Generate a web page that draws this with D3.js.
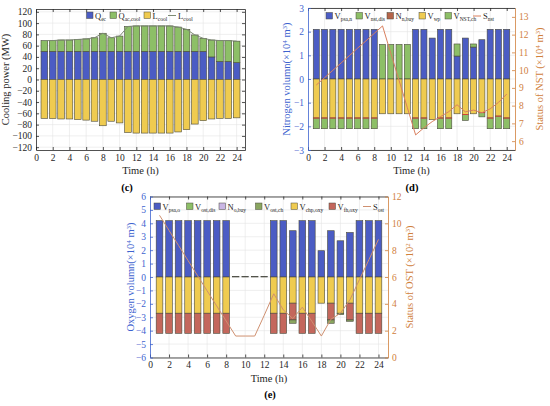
<!DOCTYPE html>
<html lang="en">
<head>
<meta charset="UTF-8">
<title>Cooling, nitrogen and oxygen balance</title>
<script src="https://d3js.org/d3.v7.min.js"></script>
<style>
  body { margin: 0; background: #fff; }
  svg { display: block; }
</style>
</head>
<body>
<svg id="chart" width="550" height="406"></svg>
<script>
const hours = d3.range(1, 25);
const timeTicks = d3.range(0, 25, 2);

// (c) cooling power, MW
const coolEc = [50,50,50,50,50,50,50,50,50,50,50,50,50,50,50,50,50,50,50,50,40,32,32,30];
const coolAc = [19,19,20,20,21,22,24,32,24,27,44,45,45,45,45,45,43,39,29,23,30,37,37,38];
const coolLoad = [69,69,70,70,71,72,74,82,74,77,94,95,95,95,95,95,93,89,79,73,70,69,69,68];
const coolTicks = d3.range(-120, 121, 20);

// (d) nitrogen, 10^4 m3
const nPsa = [2.1,2.1,2.1,2.1,2.1,2.1,2.1,2.1,0,0,0,0,2.1,2.1,1.73,2.1,2.1,0.97,1.73,1.35,1.66,2.1,2.1,2.1];
const nDis = [0,0,0,0,0,0,0,0,1.46,1.46,1.46,1.46,0,0,0,0,0,0.51,0,0.13,0,0,0,0];
const nBuy = [0,0,0,0,0,0,0,0,0,0,0,0,0,0,0,0,0,0,0,0,0,0,0,0];
const nWp = [-1.65,-1.65,-1.65,-1.65,-1.65,-1.65,-1.65,-1.65,-1.47,-1.47,-1.47,-1.47,-1.65,-1.65,-1.72,-1.65,-1.65,-1.47,-1.5,-1.47,-1.42,-1.65,-1.57,-1.65];
const nCh = [-0.45,-0.45,-0.45,-0.45,-0.45,-0.45,-0.45,-0.45,0,0,0,0,-0.45,-0.45,0,-0.45,-0.45,0,-0.25,0,-0.18,-0.45,-0.53,-0.45];
const nStore = [9.16,9.57,9.99,10.4,10.82,11.24,11.65,12.07,12.49,10.95,9.42,7.88,6.35,6.75,7.1,7.38,7.66,8.05,7.65,7.75,7.6,7.82,8.18,8.65];
const nTicks = d3.range(-3, 4, 1);
const nStoreTicks = d3.range(6, 14, 1);

// (e) oxygen
const oPsa = [4.2,4.2,4.2,4.2,4.2,4.2,4.2,4.2,0.04,0.04,0.04,0.04,4.2,4.2,3.45,4.2,4.2,1.96,3.45,2.7,3.32,4.2,4.2,4.2];
const oDis = [0,0,0,0,0,0,0,0,0,0,0,0,0,0,0,0,0,0,0,0,0,0,0,0];
const oBuy = [0,0,0,0,0,0,0,0,0,0,0,0,0,0,0,0,0,0,0,0,0,0,0,0];
const oChp = [-2.7,-2.7,-2.7,-2.7,-2.7,-2.7,-2.7,-2.7,0,0,0,0,-2.7,-2.7,-1.95,-2.7,-2.7,-1.95,-1.95,-2.7,-1.95,-2.7,-2.7,-2.7];
const oFh = [-1.5,-1.5,-1.5,-1.5,-1.5,-1.5,-1.5,-1.5,0,0,0,0,-1.5,-1.5,-1.25,-1.5,-1.5,0,-1.25,0,-1.25,-1.5,-1.5,-1.5];
const oCh = [0,0,0,0,0,0,0,0,0,0,0,0,0,0,-0.25,0,0,0,-0.25,-0.1,-0.1,0,0,0];
const oStore = [10.6,9.47,8.35,7.22,6.1,4.97,3.85,2.72,1.6,1.6,1.6,3.15,4.75,3.55,2.9,3.75,2.7,1.6,2.85,3.3,4.3,5.8,7.3,8.8];
const oTicks = d3.range(-6, 7, 1);
const oStoreTicks = d3.range(0, 13, 2);

const BLUE = "#4b5cc4", GREEN = "#8dbf67", YELLOW = "#efcb50",
      BROWN = "#b5654a", RED = "#c4675c", LAVENDER = "#c9b6e4";
const FONT = "'Liberation Serif', 'Times New Roman', serif";
const intFmt = d3.format("d");

const svg = d3.select("#chart").attr("font-family", FONT);

function stackRects(series, sign) {
  const out = [];
  hours.forEach((h, i) => {
    let base = 0;
    series.forEach(s => {
      const v = s.values[i];
      if (v * sign > 0) {
        out.push({ h, a: base, b: base + v, s });
        base += v;
      }
    });
  });
  return out;
}

function styleAxis(sel, color) {
  sel.attr("font-family", FONT).attr("font-size", 9.5);
  sel.select(".domain").attr("stroke", color).attr("stroke-width", 0.8);
  sel.selectAll(".tick line").attr("stroke", color).attr("stroke-width", 0.8);
  sel.selectAll(".tick text").attr("fill", color);
}

// label with subscript / superscript parts: [[text, "sub"|"sup"|null], ...]
function richText(t, parts, small) {
  let shift = 0;
  parts.forEach(([str, kind]) => {
    const target = kind === "sub" ? 2 : kind === "sup" ? -3.5 : 0;
    const ts = t.append("tspan").attr("dy", target - shift).text(str);
    if (kind) ts.attr("font-size", small);
    shift = target;
  });
}

function drawPanel(p) {
  const g = svg.append("g");
  const x = d3.scaleLinear().domain([0, 25]).range([p.left, p.right]);
  const y = d3.scaleLinear().domain(p.yDomain).range([p.bottom, p.top]);
  const y2 = p.y2Domain ? d3.scaleLinear().domain(p.y2Domain).range([p.bottom, p.top]) : null;

  // grid
  g.append("g").selectAll("line").data(timeTicks.slice(1))
    .join("line")
    .attr("x1", d => x(d)).attr("x2", d => x(d))
    .attr("y1", p.top).attr("y2", p.bottom)
    .attr("stroke", "#e4e4e4").attr("stroke-width", 0.6);
  g.append("g").selectAll("line").data(p.yTicks)
    .join("line")
    .attr("x1", p.left).attr("x2", p.right)
    .attr("y1", d => y(d)).attr("y2", d => y(d))
    .attr("stroke", "#e4e4e4").attr("stroke-width", 0.6);

  // bars
  const bw = (x(1) - x(0)) * p.barFrac;
  const rects = stackRects(p.pos, 1).concat(stackRects(p.neg, -1));
  g.append("g").selectAll("rect").data(rects)
    .join("rect")
    .attr("x", d => x(d.h) - bw / 2)
    .attr("y", d => y(Math.max(d.a, d.b)))
    .attr("width", bw)
    .attr("height", d => Math.abs(y(d.a) - y(d.b)))
    .attr("fill", d => d.s.color)
    .attr("stroke", "#4a4a3c")
    .attr("stroke-width", 0.6);

  // coloured edge where a series meets the one above it
  g.append("g").selectAll("line").data(rects.filter(d => d.s.edge))
    .join("line")
    .attr("x1", d => x(d.h) - bw / 2).attr("x2", d => x(d.h) + bw / 2)
    .attr("y1", d => y(d.a)).attr("y2", d => y(d.a))
    .attr("stroke", d => d.s.edge).attr("stroke-width", 1);

  // line series
  if (p.line) {
    const ys = p.line.axis === "y2" ? y2 : y;
    g.append("path")
      .datum(p.line.values)
      .attr("fill", "none")
      .attr("stroke", p.line.color)
      .attr("stroke-width", 1)
      .attr("d", d3.line().x((d, i) => x(hours[i])).y(d => ys(d)));
  }

  // axes, ticks pointing inward
  const ax = g.append("g").attr("transform", `translate(0,${p.bottom})`)
    .call(d3.axisBottom(x).tickValues(timeTicks).tickFormat(intFmt)
      .tickSizeInner(-3).tickSizeOuter(0).tickPadding(4));
  styleAxis(ax, "#262626");
  const axTop = g.append("g").attr("transform", `translate(0,${p.top})`)
    .call(d3.axisTop(x).tickValues(timeTicks).tickSizeInner(-3).tickSizeOuter(0).tickFormat(""));
  styleAxis(axTop, "#262626");

  const ay = g.append("g").attr("transform", `translate(${p.left},0)`)
    .call(d3.axisLeft(y).tickValues(p.yTicks).tickFormat(intFmt)
      .tickSizeInner(-3).tickSizeOuter(0).tickPadding(4));
  styleAxis(ay, p.yColor);

  const ay2 = g.append("g").attr("transform", `translate(${p.right},0)`);
  if (y2) {
    ay2.call(d3.axisRight(y2).tickValues(p.y2Ticks).tickFormat(intFmt)
      .tickSizeInner(-3).tickSizeOuter(0).tickPadding(4));
    styleAxis(ay2, p.y2Color);
  } else {
    ay2.call(d3.axisRight(y).tickValues(p.yTicks).tickSizeInner(-3).tickSizeOuter(0).tickFormat(""));
    styleAxis(ay2, "#262626");
  }

  // titles
  g.append("text")
    .attr("x", (p.left + p.right) / 2).attr("y", p.bottom + 24)
    .attr("text-anchor", "middle").attr("font-size", 10.5).attr("fill", "#262626")
    .text("Time (h)");
  g.append("text")
    .attr("x", p.tag[0]).attr("y", p.tag[1])
    .attr("text-anchor", "middle").attr("font-size", 10.5).attr("font-weight", "bold")
    .text(p.tagText);

  const yt = g.append("text")
    .attr("transform", `translate(${p.yTitleX},${(p.top + p.bottom) / 2}) rotate(-90)`)
    .attr("text-anchor", "middle").attr("dy", "0.35em")
    .attr("font-size", 10.5).attr("fill", p.yColor);
  richText(yt, p.yTitle, 7);
  if (p.y2Title) {
    const yt2 = g.append("text")
      .attr("transform", `translate(${p.y2TitleX},${(p.top + p.bottom) / 2}) rotate(-90)`)
      .attr("text-anchor", "middle").attr("dy", "0.35em")
      .attr("font-size", 10.5).attr("fill", p.y2Color);
    richText(yt2, p.y2Title, 7);
  }

  // legend
  const lg = g.append("g");
  p.legend.forEach((item, k) => {
    const lx = p.legendX[k], ly = p.legendY;
    if (item.kind === "line") {
      lg.append("line")
        .attr("x1", lx).attr("x2", lx + 8).attr("y1", ly).attr("y2", ly)
        .attr("stroke", item.color).attr("stroke-width", 1);
    } else {
      lg.append("rect")
        .attr("x", lx).attr("y", ly - 3.5).attr("width", 6.5).attr("height", 6.5)
        .attr("fill", item.color).attr("stroke", "#4a4a3c").attr("stroke-width", 0.5);
    }
    const t = lg.append("text")
      .attr("x", lx + (item.kind === "line" ? 10 : 8.5)).attr("y", ly + 3)
      .attr("font-size", 8.5).attr("fill", "#262626");
    richText(t, [[item.main, null], [item.sub, "sub"]], 5.5);
  });
}

// (c)
drawPanel({
  left: 36, right: 245, top: 9, bottom: 150,
  yDomain: [-125, 125], yTicks: coolTicks, yColor: "#262626",
  barFrac: 0.8,
  pos: [{ values: coolEc, color: BLUE }, { values: coolAc, color: GREEN }],
  neg: [{ values: coolLoad.map(v => -v), color: YELLOW }],
  line: { values: coolLoad, color: "#7c8a72", axis: "y" },
  yTitle: [["Cooling power (MW)", null]], yTitleX: 9,
  tag: [127, 191], tagText: "(c)",
  legend: [
    { kind: "rect", color: BLUE, main: "Q", sub: "ec" },
    { kind: "rect", color: GREEN, main: "Q", sub: "ac,cool" },
    { kind: "rect", color: YELLOW, main: "L", sub: "cool" },
    { kind: "line", color: "#7c8a72", main: "L", sub: "cool" }
  ],
  legendX: [86.5, 110, 144, 168], legendY: 15.5
});

// (d)
drawPanel({
  left: 308, right: 515, top: 8, bottom: 150,
  yDomain: [-3, 3], yTicks: nTicks, yColor: "#3e63cf",
  y2Domain: [5.5, 13.5], y2Ticks: nStoreTicks, y2Color: "#d0803c",
  barFrac: 0.73,
  pos: [{ values: nPsa, color: BLUE }, { values: nDis, color: GREEN }, { values: nBuy, color: BROWN }],
  neg: [{ values: nWp, color: YELLOW }, { values: nCh, color: GREEN, edge: "#d0443a" }],
  line: { values: nStore, color: "#d9805f", axis: "y2" },
  yTitle: [["Nitrogen volumn(×10", null], ["4", "sup"], [" m", null], ["3", "sup"], [")", null]], yTitleX: 290,
  y2Title: [["Status of NST (×10", null], ["4", "sup"], [" m", null], ["3", "sup"], [")", null]], y2TitleX: 543,
  tag: [412, 191], tagText: "(d)",
  legend: [
    { kind: "rect", color: BLUE, main: "V", sub: "psa,n" },
    { kind: "rect", color: GREEN, main: "V", sub: "nst,dis" },
    { kind: "rect", color: BROWN, main: "N", sub: "n,buy" },
    { kind: "rect", color: YELLOW, main: "V", sub: "wp" },
    { kind: "rect", color: GREEN, main: "V", sub: "NST,ch" },
    { kind: "line", color: "#d9805f", main: "S", sub: "nst" }
  ],
  legendX: [326, 356, 387, 419, 445, 473], legendY: 16
});

// (e)
drawPanel({
  left: 150, right: 388, top: 196.5, bottom: 357.5,
  yDomain: [-6, 6], yTicks: oTicks, yColor: "#3e63cf",
  y2Domain: [0, 12], y2Ticks: oStoreTicks, y2Color: "#d0803c",
  barFrac: 0.7,
  pos: [{ values: oPsa, color: BLUE }, { values: oDis, color: GREEN }, { values: oBuy, color: LAVENDER }],
  neg: [{ values: oChp, color: YELLOW }, { values: oFh, color: RED }, { values: oCh, color: "#8aa660" }],
  line: { values: oStore, color: "#cf9070", axis: "y2" },
  yTitle: [["Oxygen volumn(×10", null], ["4", "sup"], [" m", null], ["3", "sup"], [")", null]], yTitleX: 134,
  y2Title: [["Status of OST (×10", null], ["2", "sup"], [" m", null], ["3", "sup"], [")", null]], y2TitleX: 413,
  tag: [270, 398], tagText: "(e)",
  legend: [
    { kind: "rect", color: BLUE, main: "V", sub: "psa,o" },
    { kind: "rect", color: GREEN, main: "V", sub: "ost,dis" },
    { kind: "rect", color: LAVENDER, main: "N", sub: "o,buy" },
    { kind: "rect", color: "#8aa660", main: "V", sub: "ost,ch" },
    { kind: "rect", color: YELLOW, main: "V", sub: "chp,oxy" },
    { kind: "rect", color: RED, main: "V", sub: "fh,oxy" },
    { kind: "line", color: "#cf9070", main: "S", sub: "ost" }
  ],
  legendX: [154, 186.5, 219, 255.5, 291, 329, 363], legendY: 206.5
});
</script>
</body>
</html>
